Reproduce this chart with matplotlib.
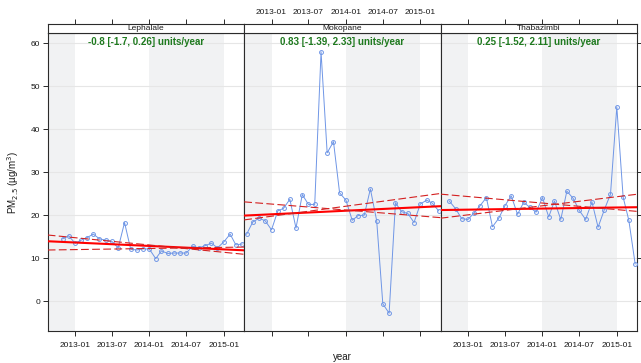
import matplotlib
matplotlib.use("Agg")
import matplotlib.pyplot as plt
import matplotlib.dates as mdates
import numpy as np
import pandas as pd

plt.rcParams['font.family'] = ['Liberation Sans', 'DejaVu Sans']

# ---- data ---------------------------------------------------------------
sites = ["Lephalale", "Mokopane", "Thabazimbi"]
first_month = ["2012-11-01", "2012-09-01", "2012-10-01"]

lephalale = [14.5, 15.2, 13.5, 14.2, 14.8, 15.6, 14.5, 14.2, 13.9, 12.4,
             18.3, 12.1, 11.9, 12.2, 12.1, 9.9, 11.7, 11.1, 11.2, 11.2,
             11.2, 12.8, 12.4, 12.9, 13.5, 12.4, 13.8, 15.6, 13.1, 13.3]
mokopane = [15.6, 18.4, 19.3, 18.7, 16.6, 21.0, 21.6, 23.7, 17.0, 24.8,
            22.5, 22.5, 58.0, 34.5, 37.1, 25.2, 23.5, 18.8, 19.9, 20.0,
            26.1, 18.7, -0.6, -2.8, 22.9, 20.8, 20.4, 18.3, 22.6, 23.5,
            22.8, 21.0]
thabazimbi = [23.3, 21.5, 19.2, 19.0, 20.6, 22.2, 24.1, 17.3, 19.3, 22.2,
              24.5, 20.2, 23.0, 21.8, 20.7, 24.1, 19.6, 23.3, 19.0, 25.6,
              23.9, 21.1, 19.0, 23.1, 17.2, 21.3, 24.9, 45.2, 24.2, 18.8,
              8.65]
series = [lephalale, mokopane, thabazimbi]

# Theil-Sen slopes (units/year) with 95% interval
slope = [-0.8, 0.83, 0.25]
slope_lower = [-1.7, -1.39, -1.52]
slope_upper = [0.26, 2.33, 2.11]
# trend line levels on 2014-01-01
level = [12.85, 21.04, 21.54]
level_lower = [13.07, 21.2, 22.82]
level_upper = [12.26, 22.09, 22.19]

y_ticks = [0, 10, 20, 30, 40, 50, 60]
x_tick_labels = ["2013-01", "2013-07", "2014-01", "2014-07", "2015-01"]

# ---- layout -------------------------------------------------------------
W, H = 641, 363
fig = plt.figure(figsize=(W / 100, H / 100), dpi=100)

left_px, panel_w = 47.7, 196.5
top_px, bottom_px = 32.7, 330.7
strip_top = 24.0

x0 = mdates.date2num(pd.Timestamp("2012-08-20"))
x1 = mdates.date2num(pd.Timestamp("2015-04-11"))
ref = mdates.date2num(pd.Timestamp("2014-01-01"))
tick_pos = mdates.date2num(pd.to_datetime(x_tick_labels))

frame_col = "#2b2b2b"
text_col = "#1a1a1a"
blue = "#6f96e6"

for i, site in enumerate(sites):
    l = (left_px + i * panel_w) / W
    ax = fig.add_axes([l, 1 - bottom_px / H, panel_w / W, (bottom_px - top_px) / H])
    ax.set_xlim(x0, x1)
    ax.set_ylim(-6.86, 62.44)

    # alternate-year shading
    for yr in (2012, 2014):
        ax.axvspan(mdates.date2num(pd.Timestamp(f"{yr}-01-01")),
                   mdates.date2num(pd.Timestamp(f"{yr + 1}-01-01")),
                   color="#f1f2f3", lw=0, zorder=0)
    for yv in y_ticks:
        ax.axhline(yv, color="#e6e6e6", lw=0.8, zorder=1)

    dates = pd.date_range(first_month[i], periods=len(series[i]), freq="MS")
    xd = mdates.date2num(dates)
    ax.plot(xd, series[i], color=blue, lw=0.7, marker="o", ms=2.8,
            mfc="none", mec=blue, mew=0.7, zorder=3)

    xs = np.array([x0, x1])
    t = (xs - ref) / 365.25
    ax.plot(xs, level[i] + slope[i] * t, color="red", lw=1.5, zorder=4)
    for lv, sl in ((level_lower[i], slope_lower[i]), (level_upper[i], slope_upper[i])):
        ax.plot(xs, lv + sl * t, color="#d42020", lw=0.8, zorder=4,
                dashes=(7, 3))

    ax.text(0.5, 1 - 9.3 / (bottom_px - top_px),
            f"{slope[i]} [{slope_lower[i]}, {slope_upper[i]}] units/year",
            transform=ax.transAxes, ha="center", va="center",
            fontsize=7, fontweight="bold", color="#1f7a1f", zorder=5)

    for s in ax.spines.values():
        s.set_color(frame_col)
        s.set_linewidth(0.8)

    ax.set_xticks(tick_pos)
    ax.set_yticks(y_ticks)
    ax.tick_params(axis="both", direction="out", length=3.5, width=0.7,
                   color=frame_col, labelsize=6, labelcolor=text_col, pad=2)
    ax.tick_params(axis="x", top=False, bottom=True, labelbottom=(i != 1))
    ax.tick_params(axis="y", left=(i == 0), labelleft=(i == 0),
                   right=(i == 2), labelright=False)
    if i != 1:
        ax.set_xticklabels(x_tick_labels)
    ax.tick_params(axis="x", pad=4.5)

    # strip with site name and top axis
    sx = fig.add_axes([l, 1 - top_px / H, panel_w / W, (top_px - strip_top) / H])
    sx.set_xlim(x0, x1)
    sx.set_ylim(0, 1)
    sx.set_facecolor("white")
    for s in sx.spines.values():
        s.set_color(frame_col)
        s.set_linewidth(0.8)
    sx.set_yticks([])
    sx.set_xticks(tick_pos)
    sx.tick_params(axis="x", bottom=False, labelbottom=False, top=True,
                   labeltop=(i == 1), direction="out", length=3.5, width=0.7,
                   color=frame_col, labelsize=6, labelcolor=text_col, pad=2)
    if i == 1:
        sx.set_xticklabels(x_tick_labels)
    sx.text(0.5, 0.5, site, transform=sx.transAxes, ha="center", va="center",
            fontsize=6, color=text_col)

fig.text(13.3 / W, 1 - 182 / H, "PM$_{2.5}$ (µg/m$^3$)", rotation=90,
         ha="center", va="center", fontsize=7, color=text_col)
fig.text((left_px + 1.5 * panel_w) / W, 1 - 357 / H, "year",
         ha="center", va="center", fontsize=7, color=text_col)

fig.savefig("out.png", dpi=100)
